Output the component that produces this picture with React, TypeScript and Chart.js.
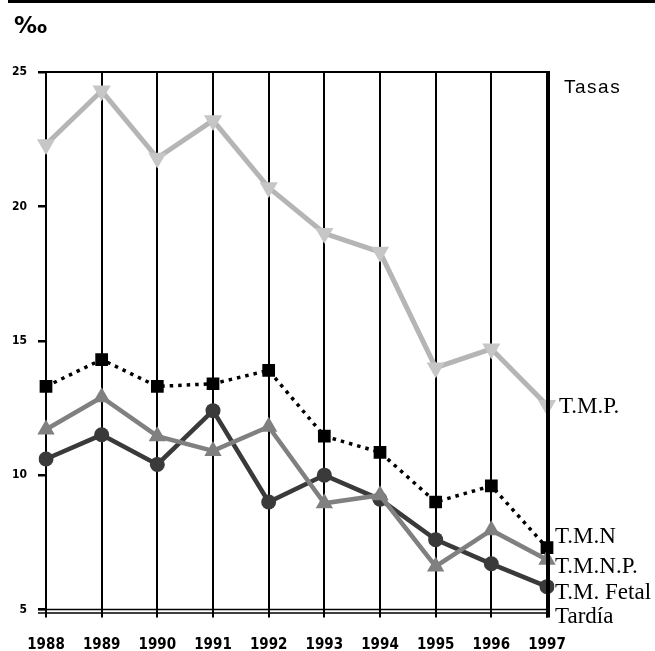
import React, { useEffect, useRef } from "react";
import { Chart, registerables } from "chart.js";

Chart.register(...registerables);

const years = ["1988", "1989", "1990", "1991", "1992", "1993", "1994", "1995", "1996", "1997"];
const tmp = [22.3, 24.3, 21.8, 23.2, 20.7, 19.0, 18.3, 14.0, 14.7, 12.6];
const tmn = [13.3, 14.3, 13.3, 13.4, 13.9, 11.45, 10.85, 9.0, 9.6, 7.3];
const tmnp = [11.7, 12.9, 11.45, 10.9, 11.8, 8.95, 9.25, 6.6, 7.95, 6.85];
const fetal = [10.6, 11.5, 10.4, 12.4, 9.0, 10.0, 9.1, 7.6, 6.7, 5.85];
const yTicks = [5, 10, 15, 20, 25];
const seriesLabels = ["T.M.P.", "T.M.N", "T.M.N.P.", "T.M. Fetal", "Tardía"];
const unitLabel = "‰";
const legendTitle = "Tasas";

const decorPlugin = {
  id: "decor",
  afterDraw(chart: any) {
    const { ctx, chartArea } = chart;
    const { left, right, top, bottom } = chartArea;
    ctx.save();
    ctx.strokeStyle = "#000";
    // top page rule
    ctx.lineWidth = 3;
    ctx.beginPath();
    ctx.moveTo(8, 1.5);
    ctx.lineTo(655, 1.5);
    ctx.stroke();
    // top border
    ctx.lineWidth = 2;
    ctx.beginPath();
    ctx.moveTo(left - 8, top);
    ctx.lineTo(right, top);
    ctx.stroke();
    // bottom double line
    ctx.lineWidth = 1.5;
    ctx.beginPath();
    ctx.moveTo(left - 8, bottom);
    ctx.lineTo(right, bottom);
    ctx.moveTo(left - 8, bottom + 3.5);
    ctx.lineTo(right, bottom + 3.5);
    ctx.stroke();
    // right thick border
    ctx.lineWidth = 4;
    ctx.beginPath();
    ctx.moveTo(right + 1, top - 1);
    ctx.lineTo(right + 1, bottom + 8);
    ctx.stroke();

    ctx.fillStyle = "#000";
    ctx.textBaseline = "alphabetic";
    ctx.textAlign = "left";
    ctx.font = "bold 23px 'DejaVu Sans'";
    ctx.fillText(unitLabel, 14, 33);

    ctx.font = "19px 'Liberation Sans'";
    (ctx as any).letterSpacing = "1.5px";
    ctx.fillText(legendTitle, 564, 93);
    (ctx as any).letterSpacing = "0px";

    ctx.font = "23px 'Liberation Serif'";
    ctx.fillText(seriesLabels[0], 559, 413);
    ctx.fillText(seriesLabels[1], 555, 543);
    ctx.fillText(seriesLabels[2], 555, 573);
    ctx.fillText(seriesLabels[3], 555, 599);
    ctx.fillText(seriesLabels[4], 555, 623);
    ctx.restore();
  },
};

export default function App() {
  const ref = useRef<HTMLCanvasElement>(null);
  useEffect(() => {
    if (!ref.current) return;
    const chart = new Chart(ref.current, {
      type: "line",
      data: {
        labels: years,
        datasets: [
          {
            label: "T.M.N.P.",
            data: tmnp,
            borderColor: "#808080",
            backgroundColor: "#808080",
            borderWidth: 4.5,
            pointStyle: "triangle",
            pointRadius: 10,
            pointBorderWidth: 0,
            tension: 0,
          },
          {
            label: "T.M. Fetal Tardía",
            data: fetal,
            borderColor: "#3a3a3a",
            backgroundColor: "#3a3a3a",
            borderWidth: 4.5,
            pointStyle: "circle",
            pointRadius: 7.5,
            pointBorderWidth: 0,
            tension: 0,
          },
          {
            label: "T.M.N",
            data: tmn,
            borderColor: "#000",
            backgroundColor: "#000",
            borderWidth: 3.5,
            borderDash: [3.5, 5],
            pointStyle: "rect",
            pointRadius: 9,
            pointBorderWidth: 0,
            tension: 0,
          },
          {
            label: "T.M.P.",
            data: tmp,
            borderColor: "#b5b5b5",
            backgroundColor: "#c6c6c6",
            borderWidth: 5,
            pointStyle: "triangle",
            pointRotation: 180,
            pointRadius: 10.5,
            pointBorderWidth: 0,
            tension: 0,
          },
        ],
      },
      options: {
        animation: false,
        responsive: false,
        maintainAspectRatio: false,
        layout: { padding: { top: 72, right: 108, left: 0, bottom: 0 } },
        plugins: { legend: { display: false }, tooltip: { enabled: false } },
        scales: {
          x: {
            type: "category",
            offset: false,
            grid: {
              display: true,
              color: "#000",
              lineWidth: 2,
              drawOnChartArea: true,
              drawTicks: true,
              tickLength: 8,
            },
            border: { display: false },
            ticks: {
              color: "#000",
              font: { family: "'Liberation Sans Narrow', 'DejaVu Sans Condensed'", weight: "bold", size: 15 },
              padding: 19,
              maxRotation: 0,
              autoSkip: false,
            },
            afterFit: (s: any) => {
              s.height = 41.5;
            },
          },
          y: {
            min: 5,
            max: 25,
            afterBuildTicks: (s: any) => {
              s.ticks = yTicks.map((v) => ({ value: v }));
            },
            grid: {
              display: true,
              color: "#000",
              lineWidth: 2.5,
              drawOnChartArea: false,
              drawTicks: true,
              tickLength: 8,
            },
            border: { display: false },
            ticks: {
              color: "#000",
              font: { family: "'DejaVu Sans Condensed'", weight: "bold", size: 12 },
              padding: 11,
            },
            afterFit: (s: any) => {
              s.width = 46;
            },
          },
        },
      },
      plugins: [decorPlugin],
    });
    return () => chart.destroy();
  }, []);
  return (
    <div style={{ position: "absolute", left: 0, top: 0, width: 655, height: 651 }}>
      <canvas ref={ref} width={655} height={651} style={{ display: "block" }} />
    </div>
  );
}
